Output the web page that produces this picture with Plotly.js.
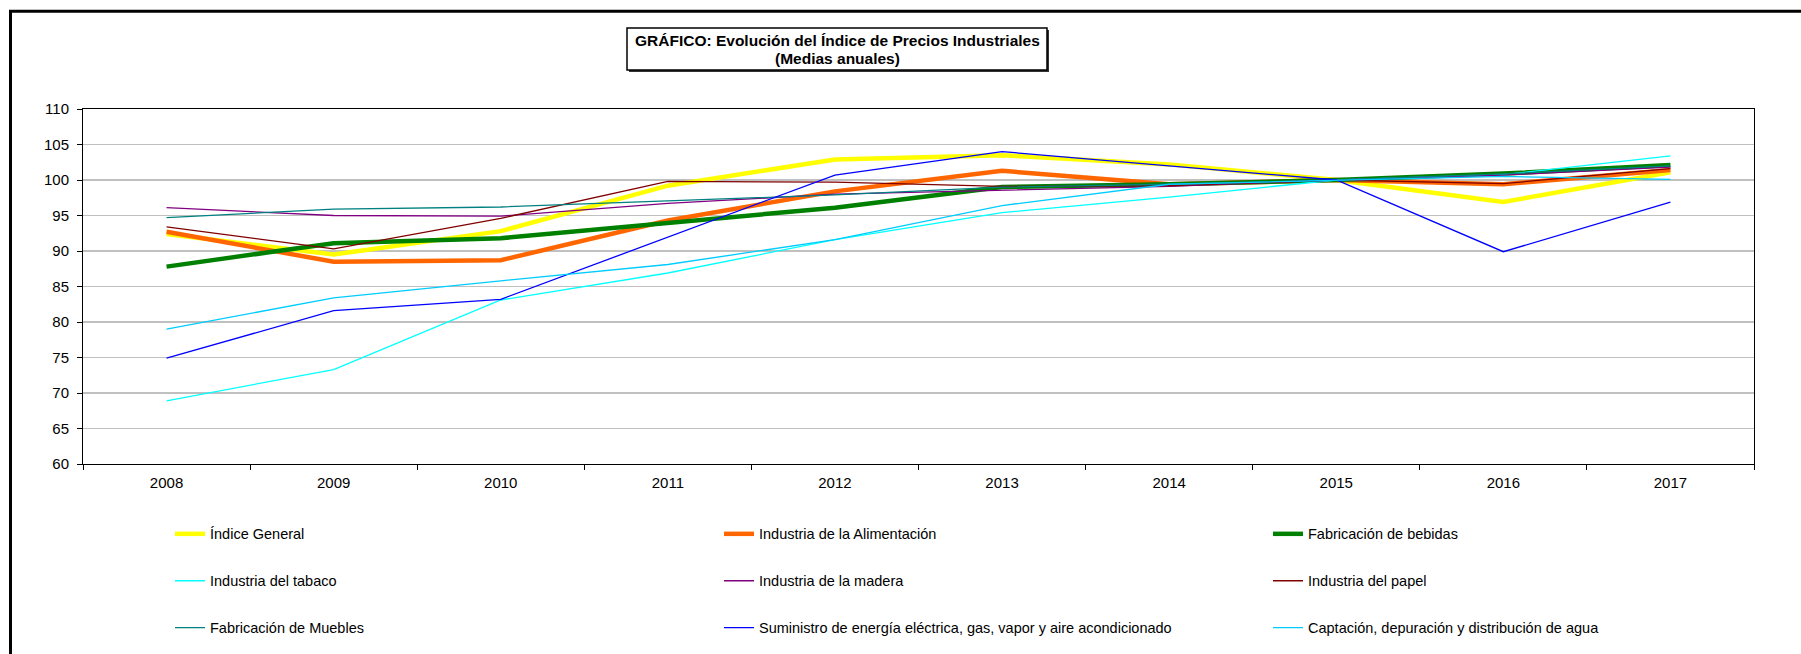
<!DOCTYPE html>
<html>
<head>
<meta charset="utf-8">
<script src="https://cdn.plot.ly/plotly-3.0.1.min.js"></script>
<style>html,body{margin:0;padding:0;background:#fff;}#chart{width:1801px;height:654px;}</style>
</head>
<body>
<div id="chart"></div>
<script>
const years = ['2008','2009','2010','2011','2012','2013','2014','2015','2016','2017'];
const yTicks = [60,65,70,75,80,85,90,95,100,105,110];

const seriesNames = [
  'Índice General',
  'Industria de la Alimentación',
  'Fabricación de bebidas',
  'Industria del tabaco',
  'Industria de la madera',
  'Industria del papel',
  'Fabricación de Muebles',
  'Suministro de energía eléctrica, gas, vapor y aire acondicionado',
  'Captación, depuración y distribución de agua'
];

const indiceGeneral = [92.4, 89.5, 92.8, 99.2, 102.9, 103.5, 102.2, 100.0, 96.9, 101.1];
const alimentacion  = [92.7, 88.5, 88.7, 94.3, 98.4, 101.3, 99.4, 100.0, 99.4, 101.4];
const bebidas       = [87.8, 91.1, 91.8, 94.0, 96.1, 99.0, 99.4, 100.0, 100.9, 102.1];
const tabaco        = [68.9, 73.3, 83.1, 86.9, 91.6, 95.4, 97.6, 100.0, 100.75, 103.4];
const madera        = [96.1, 95.0, 94.9, 96.7, 98.0, 98.5, 99.1, 100.0, 100.7, 101.8];
const papel         = [93.4, 90.3, 94.6, 99.8, 99.7, 99.1, 99.2, 100.0, 99.5, 101.6];
const muebles       = [94.7, 95.9, 96.2, 97.1, 97.9, 99.0, 99.4, 100.0, 100.85, 102.0];
const energia       = [74.9, 81.6, 83.2, 91.9, 100.7, 104.0, 102.0, 100.0, 89.9, 96.9];
const agua          = [79.0, 83.4, 85.8, 88.1, 91.6, 96.4, 99.4, 100.0, 100.5, 100.1];

const seriesValues = [indiceGeneral, alimentacion, bebidas, tabaco, madera, papel, muebles, energia, agua];
const colors = ['#FFFF00','#FF6600','#008000','#00FFFF','#800080','#800000','#008080','#0000FF','#00CCFF'];
const widths = [4.5, 4.5, 4.5, 1.3, 1.3, 1.3, 1.3, 1.3, 1.3];

const W = 1801, H = 654;
const L = 83, R = 1754, T = 108.5, B = 464;
const px = x => (x - L) / (R - L);
const py = y => (B - y) / (B - T);

const FONT = 'Liberation Sans, Arial, sans-serif';

// legend grid: 3 columns x 3 rows
const legendColX = [170, 719, 1268];
const legendRowY = [534, 581, 628];
const legendKey = i => (i === 0 ? 'legend' : 'legend' + (i + 1));

const traces = seriesNames.map((name, i) => ({
  type: 'scatter',
  mode: 'lines',
  name: name,
  x: years,
  y: seriesValues[i],
  line: {color: colors[i], width: widths[i]},
  legend: legendKey(i),
  hoverinfo: 'skip'
}));

const layout = {
  width: W, height: H,
  margin: {l: L, r: W - R, t: T, b: H - B, pad: 0, autoexpand: false},
  paper_bgcolor: '#fff',
  plot_bgcolor: '#fff',
  showlegend: true,
  font: {family: FONT, size: 15, color: '#000'},
  xaxis: {
    type: 'category',
    range: [-0.5, 9.5],
    showline: true, linecolor: '#000', linewidth: 1, mirror: true,
    ticks: 'outside', ticklen: 5, tickcolor: '#000', tickson: 'boundaries',
    ticklabelstandoff: 5,
    showgrid: false, zeroline: false,
    tickfont: {family: FONT, size: 15, color: '#000'},
    fixedrange: true
  },
  yaxis: {
    range: [60, 110],
    tickvals: yTicks,
    ticktext: yTicks.map(String),
    showline: true, linecolor: '#000', linewidth: 1, mirror: true,
    ticks: 'outside', ticklen: 5, tickcolor: '#000',
    ticklabelstandoff: 5,
    showgrid: true, gridcolor: '#C0C0C0', gridwidth: 1.2,
    zeroline: false,
    tickfont: {family: FONT, size: 15, color: '#000'},
    fixedrange: true
  },
  shapes: [
    {type: 'rect', xref: 'paper', yref: 'paper',
     x0: px(10.5), x1: px(1830), y0: py(10.5), y1: py(720),
     line: {color: '#000', width: 3}, layer: 'above'},
    {type: 'rect', xref: 'paper', yref: 'paper',
     x0: px(629), x1: px(1049), y0: py(29.5), y1: py(71.5),
     fillcolor: '#333', line: {width: 0}, layer: 'above'},
    {type: 'rect', xref: 'paper', yref: 'paper',
     x0: px(627), x1: px(1047), y0: py(27.5), y1: py(69.5),
     fillcolor: '#fff', line: {color: '#000', width: 1.5}, layer: 'above'}
  ],
  annotations: [
    {xref: 'paper', yref: 'paper', x: px(837), y: py(40),
     text: '<b>GRÁFICO: Evolución del Índice de Precios Industriales</b>',
     showarrow: false, xanchor: 'center', yanchor: 'middle',
     font: {family: FONT, size: 15.5, color: '#000'}},
    {xref: 'paper', yref: 'paper', x: px(837), y: py(58),
     text: '<b>(Medias anuales)</b>',
     showarrow: false, xanchor: 'center', yanchor: 'middle',
     font: {family: FONT, size: 15.5, color: '#000'}}
  ]
};

seriesNames.forEach((name, i) => {
  layout[legendKey(i)] = {
    orientation: 'h',
    x: px(legendColX[i % 3]), xanchor: 'left',
    y: py(legendRowY[Math.floor(i / 3)]), yanchor: 'middle',
    font: {family: FONT, size: 14.5, color: '#000'},
    bgcolor: 'rgba(0,0,0,0)',
    borderwidth: 0
  };
});

Plotly.newPlot('chart', traces, layout, {displayModeBar: false, staticPlot: true});
</script>
</body>
</html>
